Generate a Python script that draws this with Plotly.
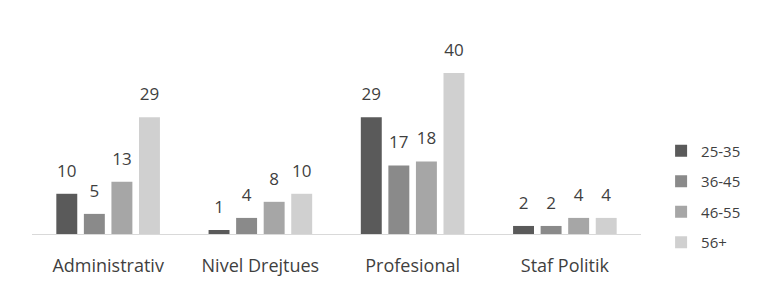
import plotly.graph_objects as go

categories = ["Administrativ", "Nivel Drejtues", "Profesional", "Staf Politik"]
series_names = ["25-35", "36-45", "46-55", "56+"]
v_25_35 = [10, 1, 29, 2]
v_36_45 = [5, 4, 17, 2]
v_46_55 = [13, 8, 18, 4]
v_56 = [29, 10, 40, 4]
values = [v_25_35, v_36_45, v_46_55, v_56]
colors = ["#5a5a5a", "#8a8a8a", "#a6a6a6", "#d0d0d0"]

fig = go.Figure()
for i, (name, vals) in enumerate(zip(series_names, values)):
    fig.add_trace(go.Bar(
        x=categories, y=vals, name=name,
        marker=dict(color=colors[i], line=dict(width=0)),
        offsetgroup=str(i), alignmentgroup="a",
        legendgroup=name, hoverinfo="x+y+name",
    ))
for i, (name, vals) in enumerate(zip(series_names, values)):
    fig.add_trace(go.Scatter(
        x=categories, y=vals, mode="markers+text", name=name + " label",
        text=[str(v) for v in vals], textposition="top center",
        textfont=dict(size=17, color="#3f3f3f"),
        marker=dict(size=19, opacity=0, color="white"),
        offsetgroup=str(i), alignmentgroup="a",
        showlegend=False, cliponaxis=False, hoverinfo="skip",
    ))

fig.update_layout(
    width=764, height=287,
    margin=dict(l=24, r=131, t=45, b=61),
    paper_bgcolor="white", plot_bgcolor="white",
    font=dict(family="Open Sans, Liberation Sans, sans-serif", size=16, color="#3f3f3f"),
    barmode="group", bargap=0.276, bargroupgap=0.24,
    scattermode="group", scattergap=0.276,
    showlegend=True,
    legend=dict(x=1.033, xanchor="left", y=0.55, yanchor="top",
                font=dict(size=15, color="#3f3f3f"),
                tracegroupgap=8, traceorder="grouped",
                itemwidth=30),
    xaxis=dict(showgrid=False, showline=True, linecolor="#d9d9d9", linewidth=1,
               ticks="", tickfont=dict(size=18, color="#3f3f3f"),
               ticklabelstandoff=15),
    yaxis=dict(range=[0, 45], visible=False, showgrid=False, zeroline=False),
)

fig.write_html("out.html")
